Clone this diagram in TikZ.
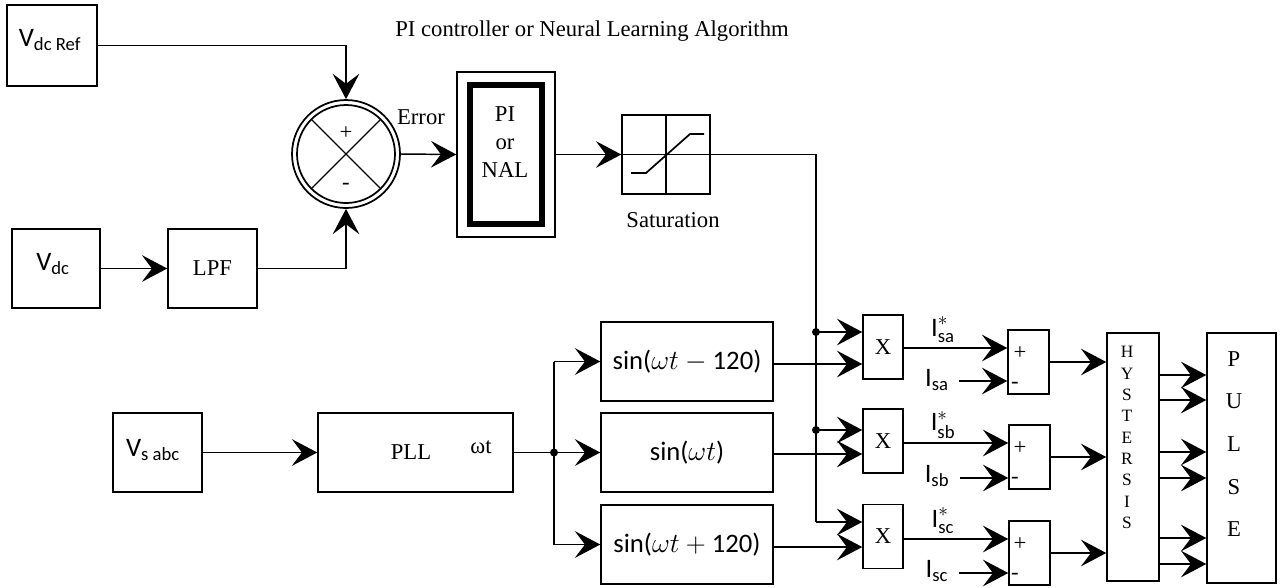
\documentclass[tikz,border=0pt]{standalone}
\usepackage{fontspec}
\usepackage{amsmath}
\setmainfont{Liberation Serif}
\newfontfamily\carl{Carlito}
\usetikzlibrary{arrows.meta,calc}
\begin{document}
\begin{tikzpicture}[x=0.75pt,y=-0.75pt,
 bx/.style n args={2}{draw, line width=1.1pt, inner sep=0pt, minimum width=#1*0.75pt, minimum height=#2*0.75pt},
 ln/.style={line width=1.1pt},
 arr/.style={line width=1.1pt, -{Stealth[length=19pt,width=20pt,inset=7.5pt]}},
 ser/.style={font=\fontsize{17}{20}\selectfont, inner sep=0pt},
 sml/.style={font=\fontsize{13}{16}\selectfont, inner sep=0pt, align=center},
 sans/.style={font=\carl\fontsize{20}{23}\selectfont, inner sep=0pt},
 dot/.style={circle, fill, inner sep=0pt, minimum size=6pt}]
\useasboundingbox (0,0) rectangle (1281,587);

% blocks
\node[bx={90}{81}] (vref) at (52,45.5) {};
\node[sans] (tvref) at (50,40) {V$_{\text{dc Ref}}$};
\node[bx={88}{79}] (vdc) at (56,268.5) {};
\node[sans] (tvdc) at (53,264) {V$_{\text{dc}}$};
\node[bx={89}{79}, ser] (lpf) at (212.5,268.5) {LPF};

\node[circle, draw, line width=1.3pt, minimum size=81pt, inner sep=0pt] (sum) at (346,154) {};
\draw[line width=1.3pt] (sum.center) circle[radius=36.75pt];
\draw[line width=1pt] (sum.center) ++(-34.6,-34.6) -- ++(69.2,69.2);
\draw[line width=1pt] (sum.center) ++(-34.6,34.6) -- ++(69.2,-69.2);
\node[ser] (plus0) at (346,133) {+};
\node[ser] (minus0) at (346,186) {-};
\node[ser] (err) at (421,117) {Error};

\node[ser] (title) at (592,31) {PI controller or Neural Learning Algorithm};
\node[bx={98}{165}] (pi) at (506,154.5) {};
\draw[line width=4.5pt] (470,85) rectangle (541.5,223.5);
\node[ser, align=center, font=\fontsize{17}{21}\selectfont] (tpi) at (505,142) {PI\\or\\NAL};

\node[bx={88}{79}] (sat) at (666,154.5) {};
\draw[line width=1pt] (sat.north) -- (sat.south);
\draw[line width=1pt] (sat.west) -- (sat.east);
\draw[line width=1.3pt] (631,173) -- (646,173) -- (690,134) -- (704,134);
\node[ser] (tsat) at (673,220) {Saturation};

\node[bx={89}{79}] (vs) at (157.5,452.5) {};
\node[sans] (tvs) at (153,450) {V$_{\text{s abc}}$};
\node[bx={195}{79}] (pll) at (415.5,452.5) {};
\node[ser] (tpll) at (411,452) {PLL};
\node[ser] (twt) at (481,447) {ωt};

\node[bx={172}{79}, sans] (sin1) at (687,361.5) {sin($\omega t - {}$120)};
\node[bx={172}{79}, sans] (sin2) at (687,452.5) {sin($\omega t$)};
\node[bx={172}{79}, sans] (sin3) at (687,544.5) {sin($\omega t + {}$120)};

\node[bx={40}{64}, ser] (x1) at (883,347) {X};
\node[bx={40}{64}, ser] (x2) at (883,441) {X};
\node[bx={40}{64}, ser] (x3) at (883,536.5) {X};

\node[bx={41}{64}] (s1) at (1028.5,362) {};
\node[bx={41}{64}] (s2) at (1029.5,457) {};
\node[bx={41}{64}] (s3) at (1029.5,553) {};
\foreach \s/\yy in {1/362,2/457,3/553}{
  \node[ser] (p\s) at (1020,\yy-9) {+};
  \node[ser] (m\s) at (1015,\yy+23) {-};
}

\node[bx={52}{248}] (hy) at (1133,457) {};
\node[sml] (thy) at (1127,437.5) {H\\Y\\S\\T\\E\\R\\S\\I\\S};
\node[bx={69}{250}] (pu) at (1241.5,458) {};
\node[ser, align=center, font=\fontsize{17}{32}\selectfont] (tpu) at (1234,444) {P\\U\\L\\S\\E};

% labels of currents
\node[sans] (la1) at (943,330) {I$^{*}_{\text{sa}}$};
\node[sans] (la2) at (943,425) {I$^{*}_{\text{sb}}$};
\node[sans] (la3) at (943,521) {I$^{*}_{\text{sc}}$};
\node[sans] (lb1) at (937,380) {I$_{\text{sa}}$};
\node[sans] (lb2) at (937,476) {I$_{\text{sb}}$};
\node[sans] (lb3) at (937,571) {I$_{\text{sc}}$};

% connectors
\draw[arr] (vref.east) -| (sum.north);
\draw[arr] (vdc.east) -- (lpf.west);
\draw[arr] (lpf.east) -| (sum.south);
\draw[arr] (sum.east) -- (pi.west);
\draw[arr] (pi.east) -- (sat.west);

\coordinate (ja) at (816,332);
\coordinate (jb) at (816,430);
\coordinate (jc) at (816,522);
\draw[ln] (sat.east) -- (816,154.5) -- (jc);
\node[dot] (da) at (ja) {};
\node[dot] (db) at (jb) {};
\draw[arr] (ja) -- (x1.west |- ja);
\draw[arr] (jb) -- (x2.west |- jb);
\draw[arr] (jc) -- (x3.west |- jc);

\draw[arr] (vs.east) -- (pll.west);
\coordinate (jp) at (554,452.5);
\draw[ln] (pll.east) -- (jp);
\node[dot] (dp) at (jp) {};
\draw[ln] (554,361.5) -- (554,544.5);
\draw[arr] (554,361.5) -- (sin1.west);
\draw[arr] (jp) -- (sin2.west);
\draw[arr] (554,544.5) -- (sin3.west);

\draw[arr] (sin1.east |- 0,364) -- (x1.west |- 0,364);
\draw[arr] (sin2.east |- 0,454) -- (x2.west |- 0,454);
\draw[arr] (sin3.east |- 0,547) -- (x3.west |- 0,547);

\draw[arr] (x1.east |- 0,348) -- (s1.west |- 0,348);
\draw[arr] (x2.east |- 0,443) -- (s2.west |- 0,443);
\draw[arr] (x3.east |- 0,539) -- (s3.west |- 0,539);
\draw[arr] (lb1.east |- 0,381) ++(10,0) -- (s1.west |- 0,381);
\draw[arr] (lb2.east |- 0,478) ++(10,0) -- (s2.west |- 0,478);
\draw[arr] (lb3.east |- 0,573) ++(10,0) -- (s3.west |- 0,573);

\draw[arr] (s1.east) -- (hy.west |- s1.east);
\draw[arr] (s2.east) -- (hy.west |- s2.east);
\draw[arr] (s3.east) -- (hy.west |- s3.east);

\foreach \yy in {375,400,452,478,538,564}
  \draw[arr] (hy.east |- 0,\yy) -- (pu.west |- 0,\yy);
\end{tikzpicture}
\end{document}
